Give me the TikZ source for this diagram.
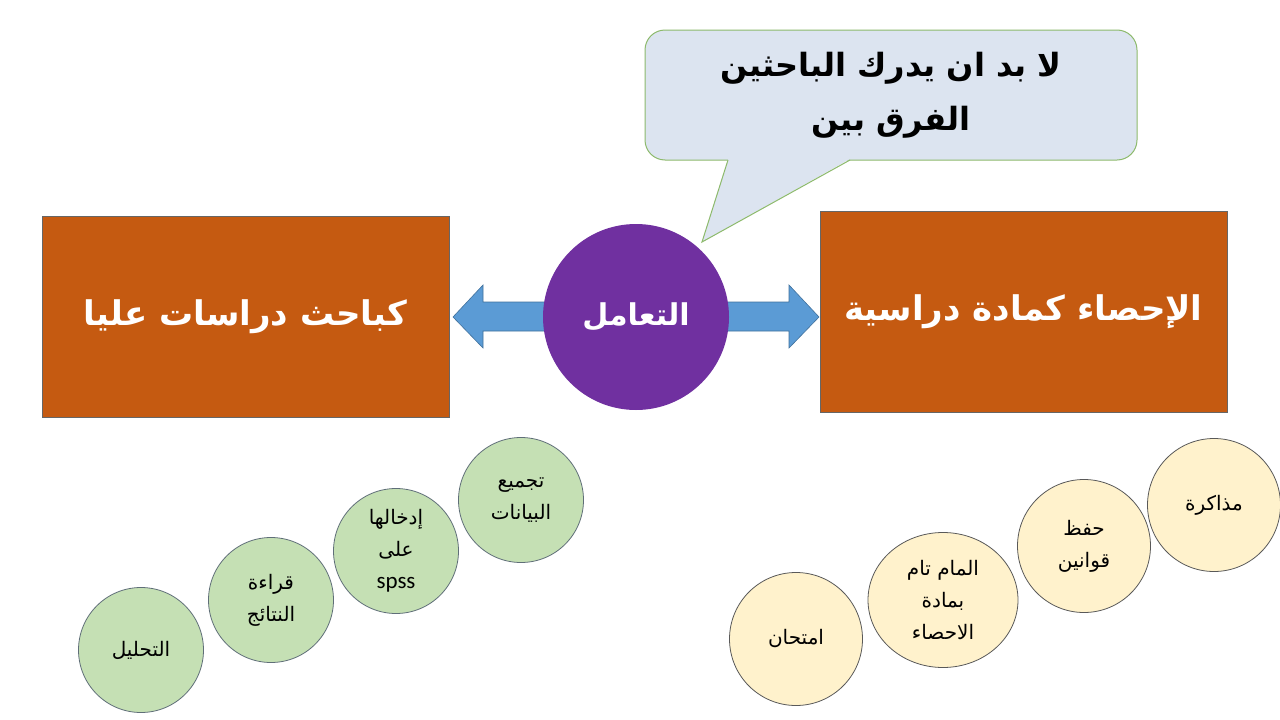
\documentclass[tikz,border=0pt]{standalone}
\usepackage{fontspec}
\usetikzlibrary{shapes.geometric}
\newfontfamily\ar[Script=Arabic]{DejaVu Sans}
\newfontfamily\lat{Carlito}
\TeXXeTstate=1
\definecolor{orng}{HTML}{C55A11}
\definecolor{purp}{HTML}{7030A0}
\definecolor{arrowblue}{HTML}{5B9BD5}
\definecolor{arrowedge}{HTML}{41719C}
\definecolor{callfill}{HTML}{DCE4F0}
\definecolor{calledge}{HTML}{8DBA6C}
\definecolor{greenfill}{HTML}{C5E0B4}
\definecolor{greenedge}{HTML}{5F6E78}
\definecolor{yelfill}{HTML}{FFF2CC}
\definecolor{yeledge}{HTML}{595959}
\tikzset{
  bigbox/.style={draw=gray!80!black, line width=0.8pt, fill=orng, minimum width=407pt, minimum height=201pt, inner sep=0pt, text=white, font=\ar\bfseries\fontsize{34}{40}\selectfont},
  callbox/.style={draw=calledge, line width=1pt, fill=callfill, rounded corners=20pt, minimum width=492pt, minimum height=130pt, align=center, font=\ar\bfseries\fontsize{32}{54}\selectfont},
  hub/.style={circle, fill=purp, minimum size=186pt, inner sep=0pt, text=white, font=\ar\bfseries\fontsize{30}{36}\selectfont},
  gcirc/.style={circle, draw=greenedge, line width=0.8pt, fill=greenfill, minimum size=125pt, inner sep=0pt, align=center, font=\ar\fontsize{20}{32}\selectfont},
  ycirc/.style={circle, draw=yeledge, line width=0.8pt, fill=yelfill, minimum size=133pt, inner sep=0pt, align=center, font=\ar\fontsize{20}{32}\selectfont},
  yell/.style={ellipse, draw=yeledge, line width=0.8pt, fill=yelfill, minimum width=150pt, minimum height=135pt, inner sep=0pt, align=center, font=\ar\fontsize{20}{32}\selectfont},
  blockarrow/.style={fill=arrowblue, draw=arrowedge, line width=0.6pt, line join=miter},
}
\begin{document}
\begin{tikzpicture}[x=1pt, y=-1pt]
\fill[white] (0,0) rectangle (1280,720);
\useasboundingbox (0,0) rectangle (1280,720);

% rectangles
\node[bigbox] (left) at (245.5,316.5) {\beginR كباحث دراسات عليا\endR};
\node[bigbox] (right) at (1023.5,311.5) {\beginR الإحصاء كمادة دراسية\endR};

% block arrows (drawn before hub so the shafts start under it)
\coordinate (ltip) at (453,317);
\coordinate (rtip) at (819,317);
\path[blockarrow] (ltip) -- (483,285) -- (483,302) -- (590,302) -- (590,331) -- (483,331) -- (483,348) -- cycle;
\path[blockarrow] (rtip) -- (789,285) -- (789,302) -- (680,302) -- (680,331) -- (789,331) -- (789,348) -- cycle;

% hub
\node[hub] (hub) at (636,317) {\beginR التعامل\endR};

% callout
\node[callbox] (call) at (891,95) {\beginR لا بد ان يدرك الباحثين\endR\\\beginR الفرق بين\endR};
\coordinate (ctip) at (702,242);
\fill[callfill] (728,159) -- (ctip) -- (850,159) -- cycle;
\draw[calledge, line width=1pt, line join=miter] (728,160) -- (ctip) -- (850,160);

% green circles
\node[gcirc] (g1) at (521,500) {\beginR تجميع\endR\\\beginR البيانات\endR};
\node[gcirc] (g2) at (396,551) {\beginR إدخالها\endR\\\beginR على\endR\\{\lat\fontsize{23}{32}\selectfont spss}};
\node[gcirc] (g3) at (271,600) {\beginR قراءة\endR\\\beginR النتائج\endR};
\node[gcirc] (g4) at (141,650) {\beginR التحليل\endR};

% yellow circles
\node[ycirc] (y1) at (1214,505) {\beginR مذاكرة\endR};
\node[ycirc] (y2) at (1084,546) {\beginR حفظ\endR\\\beginR قوانين\endR};
\node[yell] (y3) at (943,600) {\beginR المام تام\endR\\\beginR بمادة\endR\\\beginR الاحصاء\endR};
\node[ycirc] (y4) at (796,639) {\beginR امتحان\endR};
\end{tikzpicture}
\end{document}
